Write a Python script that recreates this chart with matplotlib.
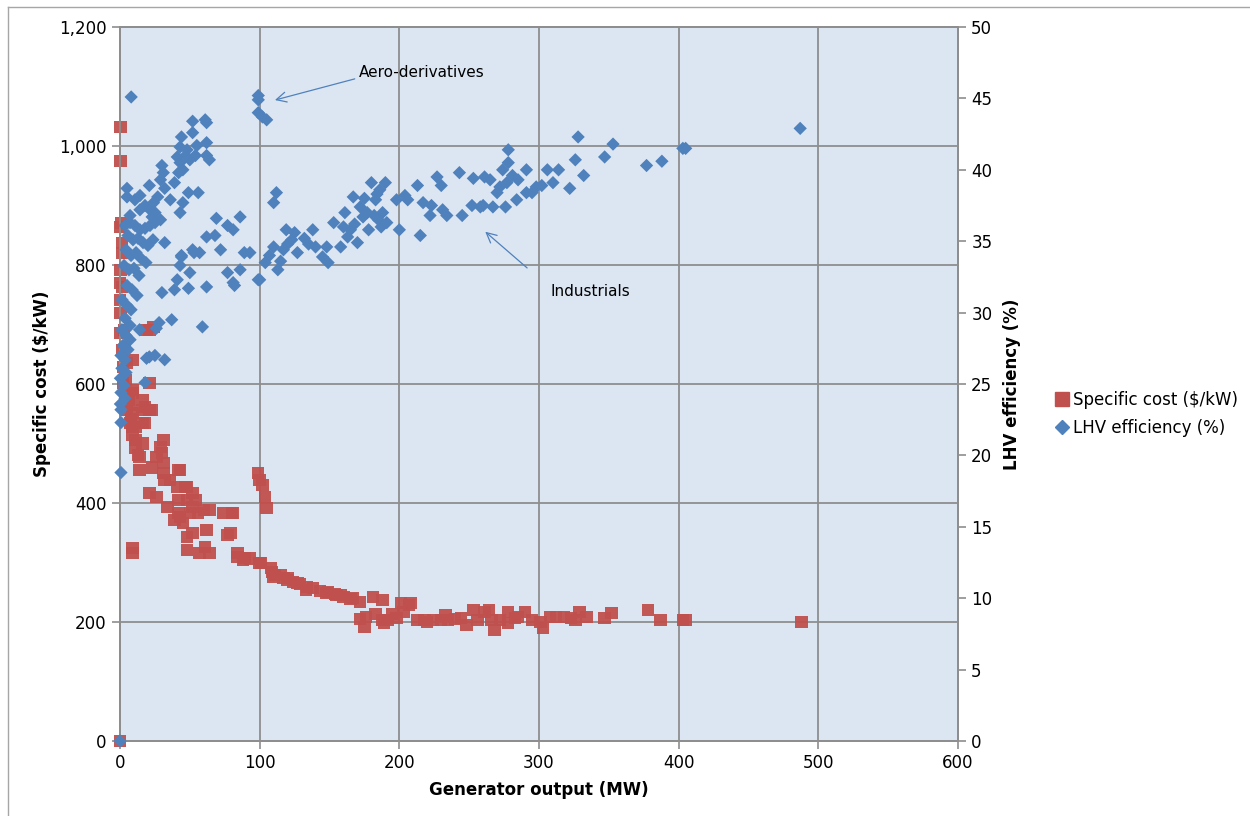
import matplotlib
matplotlib.use("Agg")
import matplotlib.pyplot as plt
from matplotlib.lines import Line2D
from matplotlib.ticker import FuncFormatter

plt.rcParams['font.family'] = ['DejaVu Sans']

# specific cost ($/kW) vs generator output (MW)
cost_pts = [
    (0.3, 1032), (0.3, 975), (0.7, 871), (0.3, 864), (1.4, 837), (1.4, 820),
    (0.3, 792), (1.4, 763), (0, 770), (0, 741), (0.3, 719), (0.3, 686),
    (2.9, 691), (3.6, 662), (1.4, 657), (5, 635), (2, 629), (9, 640),
    (2, 602), (4, 607), (6, 582), (6, 573), (9, 590), (9, 585), (7, 565),
    (5, 556), (9, 551), (8, 540), (7, 534), (9, 528), (9, 514), (11, 528),
    (11, 506), (11, 493), (13, 481), (14, 477), (14, 455), (16, 500),
    (16, 534), (16, 556), (16, 573), (18, 561), (18, 534), (21, 556),
    (23, 556), (21, 602), (19, 691), (24, 696), (21, 691), (21, 417),
    (23, 460), (26, 477), (26, 410), (29, 494), (30, 484), (31, 506),
    (31, 467), (31, 450), (32, 439), (34, 393), (36, 439), (41, 427),
    (42, 455), (43, 455), (42, 405), (42, 383), (47, 427), (48, 405),
    (48, 427), (50, 383), (52, 417), (52, 393), (54, 405), (56, 383),
    (60, 388), (64, 388), (74, 383), (80, 383), (39, 371), (43, 376),
    (45, 366), (48, 343), (48, 321), (52, 350), (57, 316), (61, 326),
    (62, 355), (64, 316), (77, 346), (79, 350), (81, 383), (9, 324),
    (9, 316), (84, 316), (84, 309), (88, 304), (89, 308), (93, 307),
    (99, 450), (100, 439), (102, 430), (104, 410), (105, 392),
    (100, 299), (101, 299), (108, 291), (109, 284), (110, 276), (111, 279),
    (115, 279), (117, 274), (120, 274), (120, 271), (124, 267), (127, 266),
    (129, 264), (133, 254), (134, 259), (138, 257), (143, 252), (148, 249),
    (149, 250), (154, 247), (155, 245), (158, 245), (160, 242), (165, 239),
    (167, 240), (172, 234), (172, 205), (175, 192), (176, 208), (181, 242),
    (183, 213), (188, 237), (188, 203), (189, 198), (192, 203), (195, 213),
    (198, 207), (201, 232), (203, 217), (207, 229), (208, 232), (213, 203),
    (218, 203), (220, 200), (224, 203), (230, 203), (233, 212), (235, 203),
    (240, 205), (244, 207), (248, 195), (253, 220), (256, 203), (261, 217),
    (264, 220), (266, 203), (268, 187), (272, 203), (278, 217), (278, 198),
    (283, 207), (285, 208), (290, 217), (295, 203), (301, 200), (303, 190),
    (308, 208), (312, 208), (318, 208), (323, 207), (326, 203), (329, 217),
    (334, 208), (347, 207), (352, 215), (378, 220), (387, 203), (403, 203),
    (405, 203), (488, 200), (0, 0),
]

# LHV efficiency (%) vs generator output (MW)
eff_pts = [
    # industrials
    (93, 34.2), (100, 32.3), (104, 33.5), (110, 34.6), (117, 34.4),
    (113, 33.0), (119, 35.8), (112, 38.4), (110, 37.7), (123, 35.1),
    (127, 34.2), (132, 35.2), (138, 35.8), (140, 34.6), (148, 34.6),
    (149, 33.5), (153, 36.3), (158, 34.6), (161, 37.0), (165, 35.8),
    (167, 38.1), (170, 34.9), (172, 37.4), (174, 36.7), (177, 37.0),
    (180, 39.1), (183, 37.9), (185, 36.5), (186, 38.6), (190, 39.1),
    (188, 37.0), (191, 36.3), (198, 37.9), (200, 35.8), (204, 38.2),
    (206, 37.9), (213, 38.9), (215, 35.4), (217, 37.7), (222, 36.8),
    (223, 37.5), (227, 39.5), (230, 38.9), (231, 37.2), (234, 36.8),
    (243, 39.8), (245, 36.8), (252, 37.5), (253, 39.4), (258, 37.4),
    (260, 37.5), (261, 39.5), (265, 39.3), (267, 37.4), (270, 38.4),
    (272, 38.8), (274, 40.0), (276, 37.4), (277, 39.1), (278, 40.5),
    (278, 41.4), (281, 39.6), (284, 37.9), (285, 39.3), (291, 38.4),
    (291, 40.0), (295, 38.4), (298, 38.8), (302, 38.9), (306, 40.0),
    (310, 39.1), (314, 40.0), (322, 38.7), (326, 40.7), (328, 42.3),
    (332, 39.6), (347, 40.9), (353, 41.8), (377, 40.3), (388, 40.6),
    (403, 41.5), (405, 41.5), (487, 42.9),
    (160, 36.0), (163, 35.3), (168, 36.2), (175, 38.0), (178, 35.8),
    (182, 36.8), (184, 38.3), (187, 36.0), (120, 34.8), (115, 33.6),
    (107, 34.0), (125, 35.6), (135, 34.8), (145, 33.9),
    # aero-derivatives
    (99, 45.2), (99, 44.9), (99, 44.0), (102, 43.7), (105, 43.5),
    # small / mid units
    (52, 43.4), (61, 43.5), (62, 43.3), (44, 42.3), (52, 42.6), (43, 41.6),
    (48, 41.4), (55, 41.7), (62, 41.9), (41, 40.9), (50, 40.7), (62, 41.0),
    (64, 40.7), (43, 40.5), (47, 41.0), (54, 41.0), (45, 40.0), (30, 40.3),
    (31, 39.8), (29, 39.3), (42, 39.8), (39, 39.1), (32, 38.7), (27, 38.1),
    (36, 37.9), (49, 38.4), (56, 38.4), (45, 37.7), (24, 37.7), (21, 38.9),
    (5, 38.7), (5, 38.1), (43, 37.0), (23, 36.7), (29, 36.5), (69, 36.6),
    (77, 36.1), (86, 36.7), (81, 35.8), (62, 35.3), (52, 34.4), (57, 34.2),
    (72, 34.4), (89, 34.2), (44, 33.9), (43, 33.3), (50, 32.8), (41, 32.3),
    (49, 31.7), (62, 31.8), (30, 31.4), (37, 29.5), (59, 29.0), (26, 28.9),
    (14, 28.8), (21, 26.9), (32, 26.7), (77, 32.8), (81, 32.1), (86, 33.0),
    (99, 32.3), (32, 34.9), (44, 34.0), (53, 34.2), (68, 35.4), (39, 31.6),
    (82, 31.9), (28, 29.3), (25, 27.0), (19, 26.8), (18, 25.1), (8, 45.1),
    # dense cluster near the axis
    (3.6, 36.1), (7.2, 36.3), (10.7, 36.1), (14.3, 35.8), (17.9, 35.9),
    (21.5, 36.1), (25.1, 36.3), (5.7, 35.4), (9.3, 35.1), (12.9, 35.2),
    (16.5, 34.9), (20.0, 34.7), (23.6, 35.1), (4.3, 34.4), (7.9, 34.0),
    (11.5, 34.2), (15.0, 33.8), (18.6, 33.5), (2.9, 33.3), (6.4, 33.0),
    (10.0, 33.1), (13.6, 32.6), (5.0, 31.9), (8.6, 31.6), (12.2, 31.2),
    (1.4, 30.9), (5.0, 30.5), (7.9, 30.2), (3.6, 29.6), (7.2, 29.1),
    (1.4, 28.8), (4.3, 28.4), (7.2, 28.1), (2.1, 27.7), (5.7, 27.4),
    (0.7, 27.0), (3.6, 26.7), (1.4, 26.1), (4.3, 25.8), (0.3, 25.4),
    (2.9, 24.9), (0.7, 24.4), (3.6, 24.0), (0.3, 23.6), (0.7, 23.2),
    (0.7, 22.3), (0.7, 18.8), (14.3, 37.2), (17.9, 37.5), (10.7, 37.9),
    (14.3, 38.2), (7.2, 36.8), (21.5, 37.2), (25.1, 37.0), (0, 0),
]

cost_mw, cost_val = zip(*cost_pts)
eff_mw, eff_val = zip(*eff_pts)

red = '#C0504D'
blue = '#4F81BD'
grid_c = '#8E8E8E'

fig = plt.figure(figsize=(12.5, 8.16), dpi=100)
ax = fig.add_axes([120 / 1250, 1 - 741 / 816, 838 / 1250, 714 / 816])
ax.set_facecolor('#DCE6F2')
ax.set_xlim(0, 600)
ax.set_ylim(0, 1200)
ax.set_xticks(range(0, 601, 100))
ax.set_yticks(range(0, 1201, 200))
ax.yaxis.set_major_formatter(FuncFormatter(lambda v, p: f"{int(v):,}"))
ax.grid(True, color=grid_c, lw=1.3)
ax.set_axisbelow(True)

ax2 = ax.twinx()
ax2.set_ylim(0, 50)
ax2.set_yticks(range(0, 51, 5))

ax.scatter(cost_mw, cost_val, marker='s', s=80, color=red, edgecolors='none',
           alpha=0.95, zorder=3, clip_on=False)
ax2.scatter(eff_mw, eff_val, marker='D', s=46, color=blue, edgecolors='none',
            zorder=3, clip_on=False)

for a in (ax, ax2):
    for sp in a.spines.values():
        sp.set_color(grid_c)
        sp.set_linewidth(1.3)
    a.tick_params(direction='out', length=6, color=grid_c, width=1.2,
                  labelsize=12, labelcolor='black')

ax.set_xlabel('Generator output (MW)', fontsize=12, fontweight='bold', labelpad=6)
ax.set_ylabel('Specific cost (\\$/kW)', fontsize=12, fontweight='bold', labelpad=6)
ax2.set_ylabel('LHV efficiency (%)', fontsize=12, fontweight='bold', labelpad=8)

# annotations
ax.annotate('', xy=(109, 1076), xytext=(170, 1114),
            arrowprops=dict(arrowstyle='->', color=blue, lw=0.9,
                            mutation_scale=18))
ax.text(171, 1124, 'Aero-derivatives', fontsize=11, va='center', ha='left')
ax.annotate('', xy=(260, 859), xytext=(293, 792),
            arrowprops=dict(arrowstyle='->', color=blue, lw=0.9,
                            mutation_scale=18))
ax.text(308.5, 756, 'Industrials', fontsize=11, va='center', ha='left')

handles = [
    Line2D([], [], ls='none', marker='s', ms=10, color=red),
    Line2D([], [], ls='none', marker='D', ms=7, color=blue),
]
fig.legend(handles, ['Specific cost (\\$/kW)', 'LHV efficiency (%)'],
           loc='center left', bbox_to_anchor=(1040 / 1250, 1 - 414 / 816),
           frameon=False, fontsize=12, handlelength=0.8, handletextpad=0.3,
           labelspacing=0.6)

# outer chart border
fig.add_artist(Line2D([8 / 1250, 1], [1 - 7 / 816] * 2, transform=fig.transFigure,
                      color='#A6A6A6', lw=1))
fig.add_artist(Line2D([8 / 1250] * 2, [0, 1 - 7 / 816], transform=fig.transFigure,
                      color='#A6A6A6', lw=1))

fig.savefig('out.png', dpi=100)
